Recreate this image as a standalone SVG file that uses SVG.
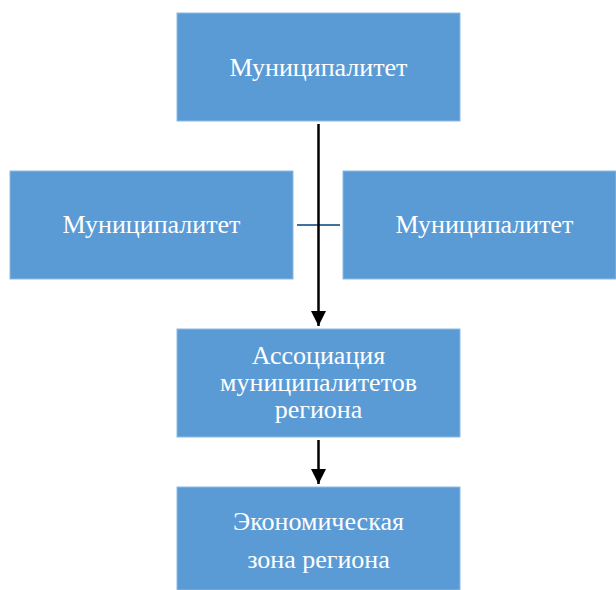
<svg xmlns="http://www.w3.org/2000/svg" width="616" height="590" viewBox="0 0 616 590">
<style>
.box{fill:#5B9BD5;stroke:#8DB9E3;stroke-width:1}
.t{font-family:"Liberation Serif","Times New Roman",serif;font-size:26px;fill:#FFFFFF;text-anchor:middle}
.arr{stroke:#000;stroke-width:2.5;fill:none}
</style>
<defs>
<marker id="ah" markerWidth="16" markerHeight="16" refX="15" refY="7.5" orient="auto" markerUnits="userSpaceOnUse">
<path d="M0,0 L15,7.5 L0,15 Z" fill="#000"/>
</marker>
</defs>
<rect width="616" height="590" fill="#FFFFFF"/>
<g id="n1"><rect class="box" x="177" y="13" width="283" height="108"/><text class="t" x="318.5" y="76">Муниципалитет</text></g>
<g id="n2"><rect class="box" x="10" y="171" width="283" height="108"/><text class="t" x="151.5" y="233">Муниципалитет</text></g>
<g id="n3"><rect class="box" x="343" y="171" width="273" height="108"/><text class="t" x="484.5" y="233">Муниципалитет</text></g>
<g id="n4"><rect class="box" x="177" y="329" width="283" height="108"/><text class="t" x="318.5" y="364">Ассоциация</text><text class="t" x="318.5" y="391">муниципалитетов</text><text class="t" x="318.5" y="418">региона</text></g>
<g id="n5"><rect class="box" x="177" y="487" width="283" height="103"/><text class="t" x="318.5" y="530">Экономическая</text><text class="t" x="318.5" y="568">зона региона</text></g>
<g id="connectors">
<line x1="297" y1="225" x2="340" y2="225" stroke="#41719C" stroke-width="2"/>
<line class="arr" x1="318.5" y1="124" x2="318.5" y2="326" marker-end="url(#ah)"/>
<line class="arr" x1="318.5" y1="440" x2="318.5" y2="484" marker-end="url(#ah)"/>
</g>
</svg>
